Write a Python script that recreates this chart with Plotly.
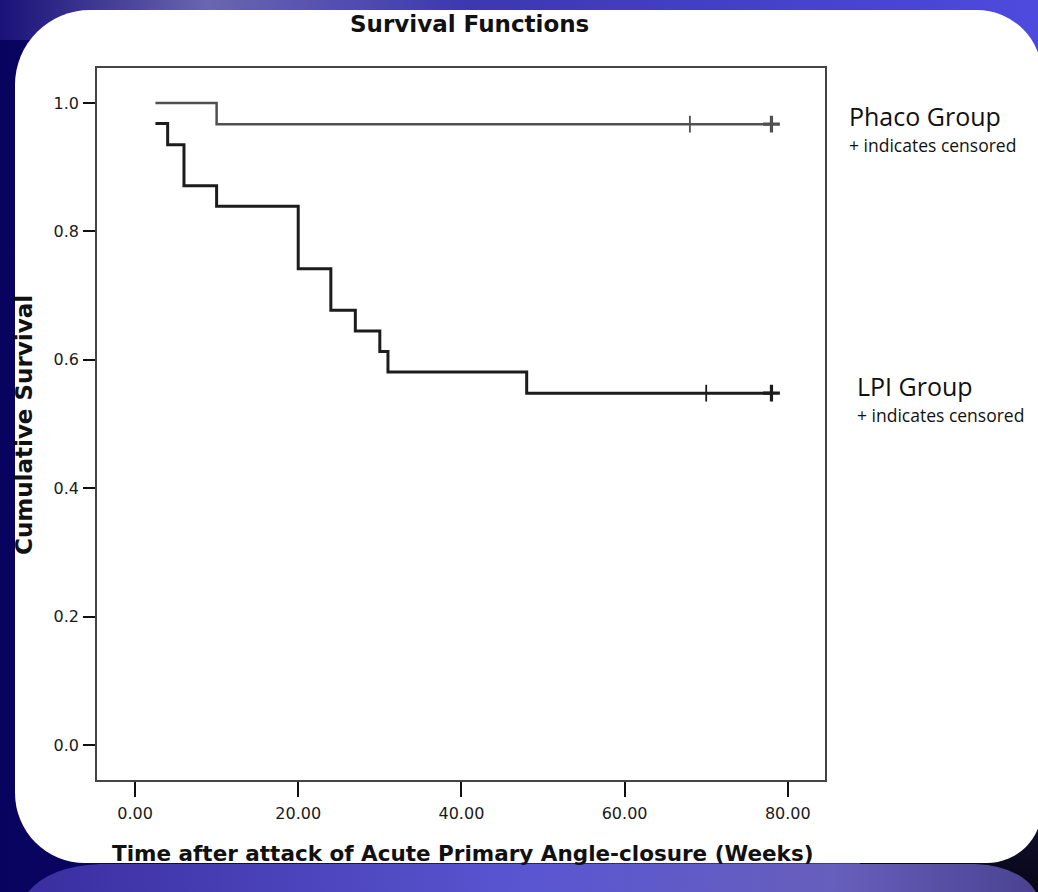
import base64
import plotly.graph_objects as go

# ---------------- data ----------------
phaco_time = [2.5, 10.0, 68.0, 78.0]
phaco_surv = [1.000, 0.967, 0.967, 0.967]
phaco_censor_time = [68.0, 78.0]
phaco_censor_surv = [0.967, 0.967]

lpi_time = [2.5, 4.0, 6.0, 10.0, 20.0, 24.0, 27.0, 30.0, 31.0, 48.0, 70.0, 78.0]
lpi_surv = [0.968, 0.935, 0.871, 0.839, 0.742, 0.677, 0.645, 0.613, 0.581, 0.548, 0.548, 0.548]
lpi_censor_time = [70.0, 78.0]
lpi_censor_surv = [0.548, 0.548]

x_ticks = [0, 20, 40, 60, 80]
x_tick_labels = ["0.00", "20.00", "40.00", "60.00", "80.00"]
y_ticks = [0.0, 0.2, 0.4, 0.6, 0.8, 1.0]
y_tick_labels = ["0.0", "0.2", "0.4", "0.6", "0.8", "1.0"]

title_text = "Survival Functions"
x_title = "Time after attack of Acute Primary Angle-closure (Weeks)"
y_title = "Cumulative Survival"
group_labels = ["Phaco Group", "LPI Group"]
censor_note = "+ indicates censored"

# ---------------- layout geometry ----------------
W, H = 1038, 892
L, R, T, B = 97, 825, 68, 780


def px(x):
    return (x - L) / (R - L)


def py(y):
    return (B - y) / (B - T)


# ---------------- decorative background (no text) ----------------
svg = f"""<svg xmlns='http://www.w3.org/2000/svg' width='{W}' height='{H}' viewBox='0 0 {W} {H}' preserveAspectRatio='none'>
<defs>
<linearGradient id='bg' x1='0' y1='0' x2='1' y2='0'>
<stop offset='0' stop-color='#08035e'/>
<stop offset='0.25' stop-color='#0e0868'/>
<stop offset='0.6' stop-color='#2a24a8'/>
<stop offset='1' stop-color='#4b46dc'/>
</linearGradient>
<linearGradient id='dk' x1='0' y1='0' x2='0' y2='1'>
<stop offset='0' stop-color='#000000' stop-opacity='0'/>
<stop offset='1' stop-color='#000000' stop-opacity='0.9'/>
</linearGradient>
<linearGradient id='ref' x1='0' y1='0' x2='1' y2='0'>
<stop offset='0' stop-color='#3a2ea0'/>
<stop offset='0.5' stop-color='#5a56d2'/>
<stop offset='0.8' stop-color='#675fbc'/>
<stop offset='1' stop-color='#4a4290'/>
</linearGradient>
<linearGradient id='topb' x1='0' y1='0' x2='1' y2='0'>
<stop offset='0' stop-color='#1a1278'/>
<stop offset='0.2' stop-color='#6a66b0'/>
<stop offset='0.45' stop-color='#3c38b0'/>
<stop offset='1' stop-color='#4e4ade'/>
</linearGradient>
</defs>
<rect x='0' y='0' width='{W}' height='{H}' fill='url(#bg)'/>
<rect x='0' y='0' width='{W}' height='40' fill='url(#topb)'/>
<rect x='860' y='330' width='178' height='562' fill='url(#dk)'/>
<path d='M 28 892 Q 50 866 100 864 L 975 864 Q 1020 866 1036 892 Z' fill='url(#ref)'/>
<path d='M 90 10 L 977 10 A 65 65 0 0 1 1042 75 L 1042 808 A 55 55 0 0 1 987 863 L 85 863 A 70 70 0 0 1 15 793 L 15 85 A 75 75 0 0 1 90 10 Z' fill='#ffffff'/>
</svg>"""
svg_uri = "data:image/svg+xml;base64," + base64.b64encode(svg.encode()).decode()

fig = go.Figure()

phaco_color = "#505050"
lpi_color = "#1c1c1c"

fig.add_trace(go.Scatter(x=phaco_time, y=phaco_surv, mode="lines",
                         line=dict(shape="hv", color=phaco_color, width=2.5),
                         hoverinfo="skip", name=group_labels[0]))
fig.add_trace(go.Scatter(x=lpi_time, y=lpi_surv, mode="lines",
                         line=dict(shape="hv", color=lpi_color, width=3),
                         hoverinfo="skip", name=group_labels[1]))


def censor_marker(n, color):
    symbols = ["line-ns"] * (n - 1) + ["cross-thin"]
    widths = [1.8] * (n - 1) + [3.2]
    return dict(symbol=symbols, size=12, color=color,
                line=dict(color=color, width=widths))


fig.add_trace(go.Scatter(x=phaco_censor_time, y=phaco_censor_surv, mode="markers",
                         marker=censor_marker(len(phaco_censor_time), phaco_color),
                         hoverinfo="skip"))
fig.add_trace(go.Scatter(x=lpi_censor_time, y=lpi_censor_surv, mode="markers",
                         marker=censor_marker(len(lpi_censor_time), lpi_color),
                         hoverinfo="skip"))

tick_font = dict(family="DejaVu Sans", size=16, color="#1a1a1a")

fig.update_xaxes(range=[-4.66, 84.56], tickvals=x_ticks, ticktext=x_tick_labels,
                 showgrid=False, zeroline=False, showline=True, mirror=True,
                 linecolor="#444444", linewidth=1.5,
                 ticks="outside", ticklen=15, tickwidth=2, tickcolor="#111111",
                 tickfont=tick_font, ticklabelstandoff=3)
fig.update_yaxes(range=[-0.0545, 1.0545], tickvals=y_ticks, ticktext=y_tick_labels,
                 showgrid=False, zeroline=False, showline=True, mirror=True,
                 linecolor="#444444", linewidth=1.5,
                 ticks="outside", ticklen=12, tickwidth=2, tickcolor="#111111",
                 tickfont=tick_font, ticklabelstandoff=1)

bold = dict(family="DejaVu Sans", size=23, color="#111111", weight="bold")
xbold = dict(family="DejaVu Sans", size=21.5, color="#111111", weight="bold")
humanist = "Open Sans"
big = dict(family=humanist, size=25, color="#111111", weight=500)
small = dict(family=humanist, size=17.5, color="#111111", weight=500)
annotations = [
    dict(text=title_text, x=px(470), y=py(24), font=bold),
    dict(text=x_title, x=px(463), y=py(853), font=xbold),
    dict(text=y_title, x=px(24), y=py(425), font=bold, textangle=-90),
    dict(text=group_labels[0], x=px(847), y=py(116), xanchor="left", font=big),
    dict(text=censor_note, x=px(847), y=py(145), xanchor="left", font=small),
    dict(text=group_labels[1], x=px(855), y=py(386), xanchor="left", font=big),
    dict(text=censor_note, x=px(855), y=py(415), xanchor="left", font=small),
]
for a in annotations:
    a.setdefault("xanchor", "center")
    a.update(xref="paper", yref="paper", yanchor="middle", showarrow=False)

fig.update_layout(
    width=W, height=H,
    margin=dict(l=L, r=W - R, t=T, b=H - B, pad=0),
    paper_bgcolor="#08035e", plot_bgcolor="rgba(0,0,0,0)",
    showlegend=False, hovermode=False,
    annotations=annotations,
    images=[dict(source=svg_uri, xref="paper", yref="paper",
                 x=px(0), y=py(0), sizex=px(W) - px(0), sizey=py(0) - py(H),
                 xanchor="left", yanchor="top", sizing="stretch", layer="below")],
)

fig.write_html("out.html", config={"displayModeBar": False})
